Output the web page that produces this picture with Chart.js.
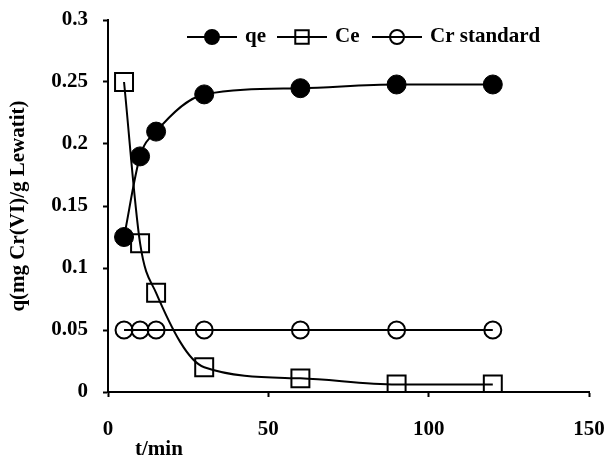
<!DOCTYPE html>
<html>
<head>
<meta charset="utf-8">
<script src="https://cdn.jsdelivr.net/npm/chart.js@4.4.1/dist/chart.umd.min.js"></script>
<style>
  html, body { margin: 0; padding: 0; background: #fff; }
  #wrap { width: 613px; height: 458px; }
</style>
</head>
<body>
<div id="wrap"><canvas id="chart" width="613" height="458"></canvas></div>
<script>
// time points (min)
const times = [5, 10, 15, 30, 60, 90, 120];

// series values
const qe = [0.125, 0.19, 0.21, 0.24, 0.245, 0.248, 0.248];
const ce = [0.25, 0.12, 0.08, 0.02, 0.011, 0.006, 0.006];
const crStandard = [0.05, 0.05, 0.05, 0.05, 0.05, 0.05, 0.05];

const seriesNames = ['qe', 'Ce', 'Cr standard'];

// axis ticks
const xTicks = [0, 50, 100, 150];
const xTickLabels = ['0', '50', '100', '150'];
const yTicks = [0, 0.05, 0.1, 0.15, 0.2, 0.25, 0.3];
const yTickLabels = ['0', '0.05', '0.1', '0.15', '0.2', '0.25', '0.3'];

const xTitle = 't/min';
const yTitle = 'q(mg Cr(VI)/g Lewatit)';

const FONT = 'Liberation Serif, Times New Roman, serif';

function toPoints(ys) {
    return times.map((t, i) => ({ x: t, y: ys[i] }));
}

// legend with a line through the marker, drawn inside the plot like the original
const lineLegend = {
    id: 'lineLegend',
    afterDraw(chart) {
        const ctx = chart.ctx;
        const y = 37;
        // [line start, marker radius, text x] per item
        const spots = [[187, 7, 245], [277, 9.5, 335], [372, 7, 430]];
        ctx.save();
        chart.data.datasets.forEach((ds, i) => {
            const [x0, r, tx] = spots[i];
            ctx.strokeStyle = '#000';
            ctx.lineWidth = 2;
            ctx.beginPath();
            ctx.moveTo(x0, y);
            ctx.lineTo(x0 + 50, y);
            ctx.stroke();
            ctx.fillStyle = ds.pointBackgroundColor;
            ctx.beginPath();
            if (ds.pointStyle === 'rect') {
                const s = r * Math.SQRT1_2;
                ctx.rect(x0 + 25 - s, y - s, 2 * s, 2 * s);
            } else {
                ctx.arc(x0 + 25, y, r, 0, Math.PI * 2);
            }
            if (ds.pointBackgroundColor !== 'rgba(0,0,0,0)') ctx.fill();
            ctx.stroke();
            ctx.fillStyle = '#000';
            ctx.font = 'bold 21px ' + FONT;
            ctx.textBaseline = 'middle';
            ctx.textAlign = 'left';
            ctx.fillText(ds.label, tx, y);
        });
        // x axis title sits left of centre in the original
        ctx.fillText(xTitle, 135, 450);
        ctx.restore();
    }
};

const ctx = document.getElementById('chart').getContext('2d');

new Chart(ctx, {
    type: 'line',
    data: {
        datasets: [
            {
                label: seriesNames[0],
                data: toPoints(qe),
                borderColor: '#000',
                borderWidth: 2,
                pointStyle: 'circle',
                pointRadius: 9.5,
                pointBackgroundColor: '#000',
                pointBorderColor: '#000',
                pointBorderWidth: 1,
                cubicInterpolationMode: 'monotone',
                fill: false
            },
            {
                label: seriesNames[1],
                data: toPoints(ce),
                borderColor: '#000',
                borderWidth: 2,
                pointStyle: 'rect',
                pointRadius: 12.7,
                pointBackgroundColor: 'rgba(0,0,0,0)',
                pointBorderColor: '#000',
                pointBorderWidth: 2,
                cubicInterpolationMode: 'monotone',
                fill: false
            },
            {
                label: seriesNames[2],
                data: toPoints(crStandard),
                borderColor: '#000',
                borderWidth: 2,
                pointStyle: 'circle',
                pointRadius: 8.5,
                pointBackgroundColor: 'rgba(0,0,0,0)',
                pointBorderColor: '#000',
                pointBorderWidth: 2,
                tension: 0,
                fill: false
            }
        ]
    },
    options: {
        responsive: false,
        animation: false,
        layout: { padding: { left: 0, right: 24, top: 20, bottom: 0 } },
        plugins: {
            legend: { display: false },
            tooltip: { enabled: false }
        },
        scales: {
            x: {
                type: 'linear',
                min: 0,
                max: 150,
                afterBuildTicks: scale => { scale.ticks = xTicks.map(v => ({ value: v })); },
                afterFit: scale => {
                    scale.height = 66;
                    scale.paddingLeft = 0;
                    scale.paddingRight = 0;
                },
                ticks: {
                    color: '#000',
                    padding: 20,
                    maxRotation: 0,
                    font: { family: FONT, size: 21, weight: 'bold' },
                    callback: (v, i) => xTickLabels[i]
                },
                grid: { drawOnChartArea: false, color: '#000', tickLength: 5, tickWidth: 2 },
                border: { color: '#000', width: 2 }
            },
            y: {
                type: 'linear',
                min: 0,
                max: 0.3,
                afterBuildTicks: scale => { scale.ticks = yTicks.map(v => ({ value: v })); },
                afterFit: scale => {
                    scale.width = 108;
                    scale.paddingTop = 0;
                    scale.paddingBottom = 0;
                },
                ticks: {
                    color: '#000',
                    padding: 15,
                    font: { family: FONT, size: 21, weight: 'bold' },
                    callback: (v, i) => yTickLabels[i]
                },
                grid: { drawOnChartArea: false, color: '#000', tickLength: 5, tickWidth: 2 },
                border: { color: '#000', width: 2 },
                title: {
                    display: true,
                    text: yTitle,
                    color: '#000',
                    padding: { top: 6, bottom: 0 },
                    font: { family: FONT, size: 21, weight: 'bold' }
                }
            }
        }
    },
    plugins: [lineLegend]
});
</script>
</body>
</html>
